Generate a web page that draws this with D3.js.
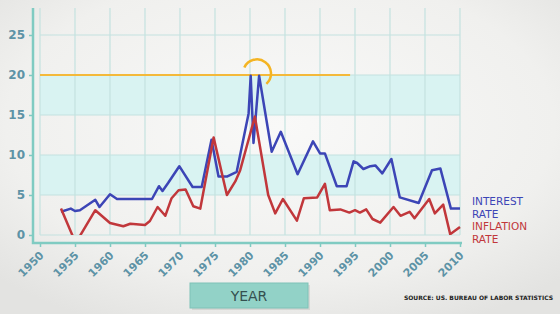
<!DOCTYPE html>
<html>
<head>
<meta charset="utf-8">
<script src="https://cdn.jsdelivr.net/npm/d3@7"></script>
<style>
  html, body { margin: 0; padding: 0; }
  body { width: 560px; height: 314px; overflow: hidden; background: #ececea; }
  svg { display: block; }
</style>
</head>
<body>
<svg width="560" height="314"></svg>
<script>
// interest rate (blue) - year, percent
const interestYears = [1953, 1954.4, 1955, 1955.7, 1957.9, 1958.5, 1960, 1961, 1966, 1967, 1967.5, 1968.3, 1969.9,
  1971.8, 1973.1, 1974.5, 1975.5, 1976.7, 1978.1, 1979.8, 1980.1, 1980.5, 1981.3, 1983.1, 1984.4, 1986.8,
  1989, 1990, 1990.7, 1992.4, 1993.8, 1994.8, 1995.3, 1996.2, 1997.2, 1997.9, 1998.9, 2000.2, 2001.4,
  2004.1, 2006, 2007.2, 2008.7, 2010];
const interestRate = [2.9, 3.3, 3.0, 3.1, 4.4, 3.5, 5.1, 4.5, 4.5, 6.1, 5.5, 6.5, 8.6,
  6.0, 6.0, 11.9, 7.3, 7.3, 7.9, 15.2, 19.9, 11.5, 19.9, 10.4, 12.9, 7.6,
  11.7, 10.2, 10.2, 6.1, 6.1, 9.2, 9.0, 8.25, 8.6, 8.7, 7.7, 9.5, 4.7,
  4.0, 8.1, 8.3, 3.3, 3.3];

// inflation rate (red)
const inflationYears = [1953, 1955.1, 1957.9, 1960, 1961.9, 1962.9, 1965, 1965.7, 1966.8, 1967.9, 1968.8, 1969.8,
  1970.8, 1971.9, 1972.9, 1974.8, 1976.7, 1977.9, 1978.6, 1980.7, 1982.6, 1983.6, 1984.7, 1986.7, 1987.7,
  1989.6, 1990.7, 1991.4, 1992.9, 1994.2, 1995, 1995.7, 1996.6, 1997.5, 1998.6, 2000.5, 2001.5, 2002.8,
  2003.5, 2005.6, 2006.4, 2007.6, 2008.6, 2010];
const inflationRate = [3.3, -1.0, 3.1, 1.5, 1.1, 1.4, 1.25, 1.75, 3.5, 2.4, 4.6, 5.6,
  5.7, 3.6, 3.3, 12.2, 5.0, 6.7, 8.1, 14.8, 5.0, 2.7, 4.5, 1.8, 4.6,
  4.7, 6.4, 3.1, 3.2, 2.8, 3.1, 2.8, 3.2, 2.0, 1.55, 3.5, 2.4, 2.9,
  2.1, 4.5, 2.7, 3.8, 0.1, 1.0];

const yTicks = [0, 5, 10, 15, 20, 25];
const xTicks = [1950, 1955, 1960, 1965, 1970, 1975, 1980, 1985, 1990, 1995, 2000, 2005, 2010];
const bands = [[5, 10], [15, 20]];
const targetLine = { value: 20, from: 1950, to: 1994.3 };
const circleMark = { year: 1981, value: 20.2 };

const svg = d3.select("svg");
const width = 560, height = 314;

const x = d3.scaleLinear().domain([1950, 2010]).range([40, 460]);
const y = d3.scaleLinear().domain([0, 25]).range([235, 35]);
const plotTop = 8;

// paper background
const defs = svg.append("defs");
const grad = defs.append("radialGradient").attr("id", "paper")
  .attr("cx", "50%").attr("cy", "40%").attr("r", "70%");
grad.append("stop").attr("offset", "0%").attr("stop-color", "#f9f9f8");
grad.append("stop").attr("offset", "70%").attr("stop-color", "#f0f0ee");
grad.append("stop").attr("offset", "100%").attr("stop-color", "#e3e3e1");
svg.append("rect").attr("width", width).attr("height", height).attr("fill", "url(#paper)");

defs.append("clipPath").attr("id", "plot-clip")
  .append("rect").attr("x", 0).attr("y", 0).attr("width", width).attr("height", y(0));

// bands
svg.append("g").selectAll("rect").data(bands).join("rect")
  .attr("x", x(1950)).attr("width", x(2010) - x(1950))
  .attr("y", d => y(d[1])).attr("height", d => y(d[0]) - y(d[1]))
  .attr("fill", "#d9f3f2");

// grid
const grid = svg.append("g").attr("stroke", "#c4e2df").attr("stroke-width", 1.2);
grid.selectAll("line.h").data(yTicks).join("line").attr("class", "h")
  .attr("x1", x(1950)).attr("x2", x(2010))
  .attr("y1", d => y(d)).attr("y2", d => y(d));
grid.selectAll("line.v").data(xTicks).join("line").attr("class", "v")
  .attr("x1", d => x(d)).attr("x2", d => x(d))
  .attr("y1", plotTop).attr("y2", y(0));

// axes
const axisColor = "#80cbc2";
const labelColor = "#5d93a6";
const font = "'DejaVu Sans', sans-serif";

const yAxis = svg.append("g").attr("transform", "translate(33,0)")
  .call(d3.axisLeft(y).tickValues(yTicks).tickSize(4).tickPadding(4));
yAxis.select(".domain").remove();
yAxis.selectAll(".tick line").attr("stroke", axisColor).attr("stroke-width", 1.5);
yAxis.selectAll(".tick text").attr("fill", labelColor).attr("font-family", font)
  .attr("font-size", 12).attr("font-weight", "bold");

const xAxis = svg.append("g").attr("transform", "translate(0,243)")
  .call(d3.axisBottom(x).tickValues(xTicks).tickFormat(d3.format("d")).tickSize(4));
xAxis.select(".domain").remove();
xAxis.selectAll(".tick line").attr("stroke", axisColor).attr("stroke-width", 1.5);
xAxis.selectAll(".tick text").attr("fill", labelColor).attr("font-family", font)
  .attr("font-size", 11).attr("font-weight", "bold")
  .attr("text-anchor", "end").attr("dy", null).attr("y", 0)
  .attr("transform", "translate(4,13) rotate(-45)");

svg.append("path")
  .attr("d", `M33,${plotTop}V243H462`)
  .attr("fill", "none").attr("stroke", axisColor).attr("stroke-width", 2.5);

// target line at 20
svg.append("line")
  .attr("x1", x(targetLine.from)).attr("x2", x(targetLine.to))
  .attr("y1", y(targetLine.value)).attr("y2", y(targetLine.value))
  .attr("stroke", "#f4b93a").attr("stroke-width", 2);

// series
const line = d3.line().x(d => x(d[0])).y(d => y(d[1]));
const plot = svg.append("g").attr("clip-path", "url(#plot-clip)");
plot.append("path")
  .attr("d", line(d3.zip(interestYears, interestRate)))
  .attr("fill", "none").attr("stroke", "#3c45b6").attr("stroke-width", 2.5)
  .attr("stroke-linejoin", "round");
plot.append("path")
  .attr("d", line(d3.zip(inflationYears, inflationRate)))
  .attr("fill", "none").attr("stroke", "#c1373b").attr("stroke-width", 2.5)
  .attr("stroke-linejoin", "round");

// highlight arc
svg.append("path")
  .attr("transform", `translate(${x(circleMark.year)},${y(circleMark.value)})`)
  .attr("d", d3.arc()({ innerRadius: 14, outerRadius: 14, startAngle: -65 * Math.PI / 180, endAngle: 138 * Math.PI / 180 }))
  .attr("fill", "none").attr("stroke", "#f4b423").attr("stroke-width", 2.5)
  .attr("stroke-linecap", "round");

// legend
const legend = svg.append("g").attr("font-family", font).attr("font-size", 10.5);
const legendItems = [
  { lines: ["INTEREST", "RATE"], color: "#3c45b6", y: 205 },
  { lines: ["INFLATION", "RATE"], color: "#c1373b", y: 230 }
];
legendItems.forEach(item => {
  item.lines.forEach((t, i) => {
    legend.append("text").attr("x", 472).attr("y", item.y + i * 12.5)
      .attr("fill", item.color).text(t);
  });
});

// year box
svg.append("rect").attr("x", 192).attr("y", 285).attr("width", 118).attr("height", 25)
  .attr("fill", "#c9c9c7").attr("opacity", 0.6);
svg.append("rect").attr("x", 190).attr("y", 283).attr("width", 118).attr("height", 25)
  .attr("fill", "#92d2c7").attr("stroke", "#7fc2b7").attr("stroke-width", 1);
svg.append("text").attr("x", 249).attr("y", 301).attr("text-anchor", "middle")
  .attr("font-family", font).attr("font-size", 14).attr("fill", "#35504f").text("YEAR");

// source
svg.append("text").attr("x", 553).attr("y", 300).attr("text-anchor", "end")
  .attr("font-family", font).attr("font-size", 6).attr("font-weight", "bold").attr("fill", "#222")
  .text("SOURCE: US. BUREAU OF LABOR STATISTICS");
</script>
</body>
</html>
